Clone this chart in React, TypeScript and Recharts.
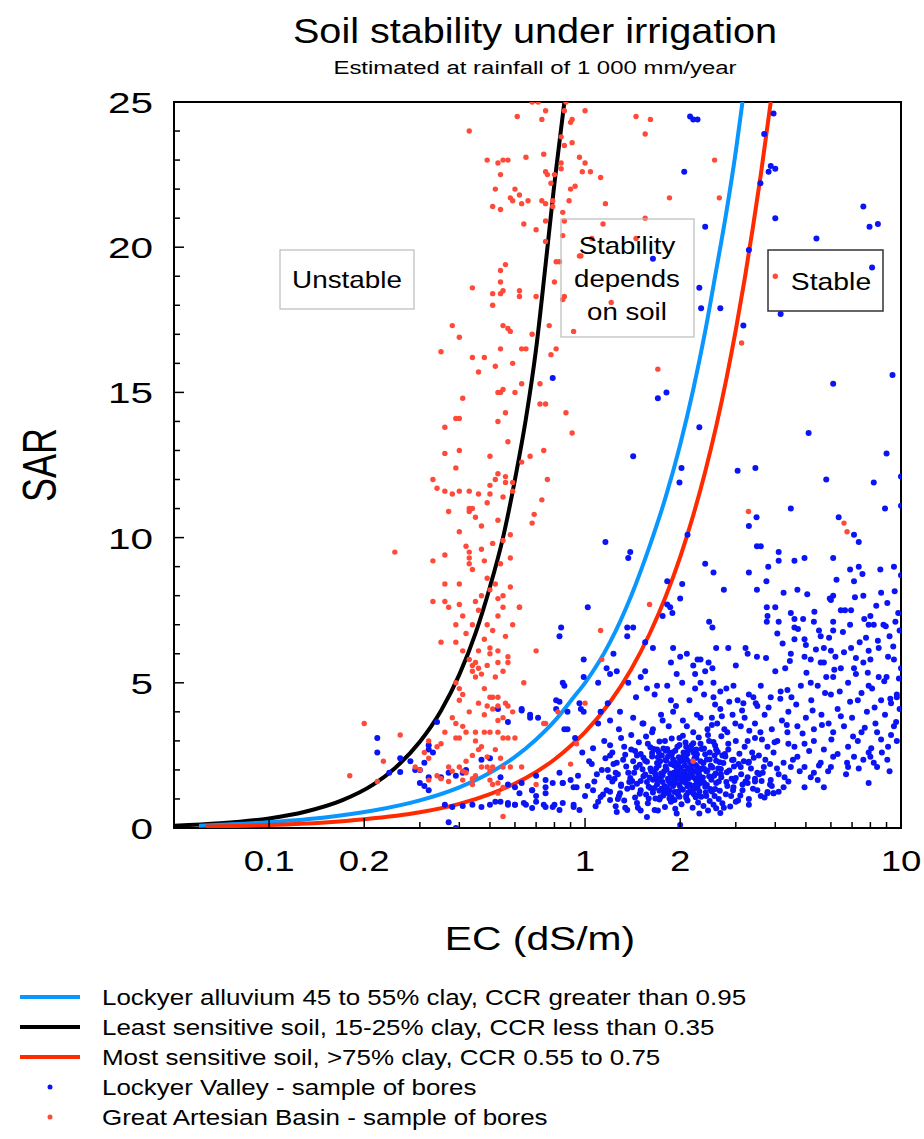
import React from 'react';
import { ComposedChart, Line, Scatter, XAxis, YAxis, ReferenceArea } from 'recharts';

type P = [number, number];

const xTicks = [0.1, 0.2, 0.3, 0.4, 0.5, 0.6, 0.7, 0.8, 0.9, 1, 2, 3, 4, 5, 6, 7, 8, 9, 10];
const xMajor = [0.1, 0.2, 1, 2, 10];
const xLabels = [0.1, 0.2, 1, 2, 10];
const yTicks = Array.from({ length: 26 }, (_, i) => i);
const yLabels = [0, 5, 10, 15, 20, 25];

const leastSensitive: P[] = [[0.05,0.08],[0.07,0.16],[0.1,0.33],[0.13,0.56],[0.17,0.95],[0.214,1.5],[0.25,2.06],[0.3,2.97],[0.35,4.04],[0.4,5.28],[0.45,6.7],[0.5,8.3],[0.55,10.0],[0.6,12.0],[0.65,14.1],[0.7,16.5],[0.75,19.4],[0.8,22.2],[0.86,25]];
const lockyerAlluvium: P[] = [[0.06,0.08],[0.1,0.2],[0.15,0.36],[0.214,0.6],[0.3,0.95],[0.4,1.4],[0.5,1.9],[0.6,2.45],[0.7,3.05],[0.8,3.68],[0.92,4.5],[1.0,5.0],[1.2,6.4],[1.4,8.0],[1.6,9.7],[1.8,11.4],[2.0,13.2],[2.2,15.1],[2.4,17.1],[2.6,19.2],[2.8,21.2],[3.0,23.3],[3.15,25]];
const mostSensitive: P[] = [[0.063,0.05],[0.1,0.1],[0.15,0.19],[0.2,0.3],[0.3,0.54],[0.4,0.83],[0.5,1.17],[0.6,1.53],[0.7,1.93],[0.8,2.36],[0.92,2.92],[1.0,3.3],[1.2,4.34],[1.4,5.47],[1.6,6.68],[1.8,7.97],[2.0,9.33],[2.2,10.77],[2.4,12.27],[2.6,13.83],[2.8,15.46],[3.0,17.15],[3.2,18.9],[3.4,20.7],[3.6,22.5],[3.87,25]];

const greatArtesianBasin: P[] = [
[0.68,25],[0.71,25],[0.87,25],[0.86,24.7],[0.75,24.7],[1.0,24.7],[0.61,24.5],[0.73,24.4],[0.91,24.4],[0.90,24.3],[0.43,24.0],[0.84,23.8],[0.91,23.6],[0.86,23.5],[0.74,23.2],[0.65,23.1],[0.96,23.1],[0.49,23.0],[0.55,23.0],[0.57,23.0],[0.53,22.9],[1.0,22.9],[0.84,22.9],[0.84,22.7],[0.54,22.5],[0.75,22.6],[0.76,22.5],[0.80,22.5],[0.98,22.6],[1.04,22.6],[0.78,22.2],[0.52,22.0],[0.60,22.0],[0.93,22.1],[0.90,22.0],[0.62,21.8],[0.58,21.7],[0.59,21.6],[0.66,21.6],[0.63,21.5],[0.73,21.6],[0.75,21.5],[0.79,21.6],[0.79,21.4],[0.89,21.6],[0.51,21.4],[0.54,21.3],[0.85,21.2],[0.64,20.8],[0.75,20.9],[0.86,20.9],[0.70,20.6],[0.85,20.4],[0.75,20.2],[0.81,19.5],[0.83,19.5],[0.56,19.4],[0.54,19.2],[0.96,19.7],[0.80,18.8],[0.44,18.6],[0.54,18.8],[0.55,18.5],[0.54,18.4],[0.51,18.4],[0.62,18.5],[0.62,18.3],[0.70,18.3],[0.86,18.3],[0.51,18.0],
[0.85,18.2],[0.38,17.3],[0.55,17.3],[0.57,17.2],[0.58,17.1],[0.77,17.3],[0.68,17.0],[0.92,17.1],[0.40,16.9],[0.35,16.4],[0.54,16.5],[0.63,16.5],[0.65,16.5],[0.81,16.5],[0.78,16.3],[0.44,16.2],[0.48,16.2],[0.52,15.9],[0.59,16.0],[0.46,15.7],[0.63,15.3],[0.72,15.3],[0.53,15.0],[0.54,15.0],[0.55,15.1],[0.60,15.0],[0.41,14.8],[0.72,14.6],[0.75,14.6],[0.56,14.3],[0.87,14.3],[0.39,14.1],[0.40,14.1],[0.53,14.0],[0.36,13.8],[0.91,13.6],[0.57,13.3],[0.36,12.9],[0.40,13.0],[0.50,12.8],[0.67,12.8],[0.74,13.0],[0.63,12.6],[0.39,12.4],[0.53,12.2],[0.56,12.1],[0.52,12.0],[0.56,11.9],[0.59,11.9],[0.76,12.0],[0.33,12.0],[0.34,11.7],[0.36,11.6],[0.38,11.5],[0.40,11.6],[0.43,11.6],[0.46,11.5],[0.50,11.8],[0.50,11.5],[0.55,11.4],[0.59,11.6],[0.73,11.3],[0.49,11.2],[0.37,10.9],[0.43,11.0],[0.44,11.0],[0.43,10.9],[0.45,10.7],[0.69,10.8],[0.68,10.5],
[0.25,9.5],[0.33,9.2],[0.36,9.4],[0.42,9.7],[0.43,9.5],[0.43,9.3],[0.43,9.1],[0.47,9.6],[0.51,9.8],[0.55,9.9],[0.54,9.1],[0.58,9.3],[0.36,8.4],[0.40,8.4],[0.49,8.6],[0.52,8.4],[0.33,7.8],[0.36,7.8],[0.37,7.6],[0.40,7.7],[0.45,7.8],[0.46,7.5],[0.55,8.0],[0.55,7.6],[0.58,8.3],[0.62,7.6],[0.39,7.0],[0.41,7.3],[0.44,7.0],[0.49,7.0],[0.53,7.3],[0.59,7.0],[0.35,6.4],[0.39,6.4],[0.50,6.2],[0.41,6.1],[0.46,6.1],[0.50,6.0],[0.53,6.1],[0.53,5.7],[0.57,5.9],[0.57,5.7],[0.70,6.1],[0.43,5.8],[0.45,5.7],[0.46,5.5],[0.44,5.6],[0.44,5.4],[0.45,5.2],[0.39,5.0],[0.64,5.0],[0.40,4.8],[0.41,4.6],[0.40,4.4],[0.48,4.8],[0.50,4.5],[0.51,4.5],[0.53,4.5],[0.49,4.2],[0.53,4.2],[0.56,4.3],[0.57,4.2],[0.59,4.0],[0.53,3.7],[0.39,3.6],[0.41,3.5],[0.42,3.3],[0.45,3.3],[0.40,3.1],[0.39,3.1],[0.48,3.3],[0.50,3.3],[0.53,3.3],[0.55,3.1],[0.57,3.1],[0.60,3.1],[0.75,3.6],[0.45,3.0],[0.46,2.7],[0.20,3.6],[0.26,3.2],[0.32,3.0],[0.34,2.8],[0.35,2.9],[0.31,2.6],[0.32,2.4],[0.23,2.3],[0.29,2.1],[0.30,2.0],[0.34,1.8],[0.35,1.7],[0.32,1.65],[0.37,2.1],[0.38,1.96],[0.40,2.1],[0.41,1.96],[0.42,1.9],[0.44,1.7],[0.45,1.8],[0.47,2.1],[0.49,2.1],[0.50,1.96],[0.51,2.1],[0.55,2.1],[0.58,2.1],[0.63,2.1],[0.18,1.8],[0.22,1.6],[0.37,1.6],[0.41,1.65],[0.44,1.5],[0.50,1.65],[0.51,1.5],[0.53,1.55],[0.55,1.4],[0.53,1.2],[0.55,0.4],
[1.45,24.5],[1.61,24.4],[1.55,23.9],[1.12,22.4],[1.16,21.5],[1.85,21.7],[2.57,23.0],[2.66,21.7],[1.05,20.3],[1.14,20.8],[1.55,21.0],[1.45,20.3],[0.97,19.7],[1.21,18.1],[4.0,19.0],[3.13,16.7],[1.70,15.8],[3.29,10.9],[6.6,10.5],[6.75,10.2],[1.60,7.7],[1.12,6.8],[0.62,7.6],[1.13,5.8],[1.0,4.3],[0.82,4.0],[0.74,3.6],[0.94,2.9],[0.90,2.2],[0.70,1.5],[2.2,2.3],
[0.42,2.3],[0.44,2.5],[0.47,2.8],[0.49,2.45],[0.52,2.7],[0.54,2.4],[0.43,4.0],[0.46,4.3],[0.48,3.9],[0.51,4.1],[0.55,3.8],[0.47,5.3],[0.49,5.6],[0.52,5.2],[0.55,5.4],[0.42,6.7],[0.48,6.5],[0.51,6.8],[0.56,6.6],[0.47,8.0],[0.5,8.2],[0.53,7.9],[0.44,8.9],[0.48,9.2],[0.4,10.2],[0.47,10.4],[0.53,10.6],[0.58,10.1],[0.38,3.8],[0.36,3.3]
];

const lockyerValley: P[] = [
[2.15,24.5],[2.2,24.4],[2.27,24.4],[3.95,24.6],[3.69,23.9],[3.87,22.8],[4.0,22.7],[3.81,22.6],[2.06,22.6],[3.59,22.2],[7.6,21.4],[8.45,20.8],[7.95,20.7],[4.0,21.0],[2.4,20.7],[5.4,20.3],[3.3,19.9],[8.1,19.3],[1.64,19.6],[2.3,18.6],[2.33,17.9],[2.68,17.9],[4.16,17.7],[3.17,17.3],[9.4,15.6],[6.1,15.3],[1.7,14.8],[1.81,15.0],[2.3,13.8],[5.1,13.6],[1.42,12.8],[9.0,12.9],[2.02,12.4],[1.99,11.9],[3.04,12.3],[3.46,12.4],[5.8,12.0],[8.2,11.9],[10,12.1],[8.9,11.0],[10,11.1],[4.48,11.0],[3.49,10.7],[3.3,10.4],[6.35,10.7],[7.1,10.1],[7.35,9.85],[1.16,9.85],[2.11,10.1],[3.5,9.7],[3.6,9.7],[0.79,15.5],
[1.39,9.5],[1.37,9.3],[4.1,9.5],[4.1,9.2],[4.6,9.2],[4.95,9.3],[6.1,9.3],[2.4,9.1],[2.55,8.8],[2.75,8.2],[3.3,8.8],[3.8,9.0],[3.75,8.5],[3.5,8.2],[4.25,8.1],[4.7,8.2],[6.9,8.9],[7.35,9.0],[7.1,8.5],[8.6,8.9],[9.5,9.0],[7.6,8.0],[8.65,8.1],[6.0,7.85],[6.1,8.0],[5.95,7.9],[10,8.7],[1.02,7.6],[1.82,8.5],[2.03,8.4],[2.0,7.9],[1.86,7.6],[1.89,7.4],[1.76,7.3],[1.82,7.7],[2.47,7.1],[2.53,6.9],
[3.76,7.6],[4.0,7.6],[3.78,7.3],[3.76,7.1],[4.06,6.7],[4.1,7.1],[4.48,7.4],[4.9,7.2],[5.3,7.1],[4.6,6.9],[5.57,6.6],[6.1,7.1],[6.1,6.8],[6.45,7.5],[6.65,7.5],[6.95,7.5],[7.65,7.2],[7.9,7.0],[8.2,7.0],[8.8,7.0],[9.6,7.1],[9.8,7.4],
[0.84,6.9],[0.83,6.6],[1.23,6.0],[1.36,6.9],[1.36,6.6],[1.42,6.9],[1.17,5.5],[1.1,5.0],[0.99,5.8],[0.99,5.2],[0.99,4.0],[0.97,4.1],
[1.55,6.4],[1.64,6.2],[1.87,5.7],[1.9,6.2],[2.1,6.0],[2.27,5.8],[2.32,5.8],[2.2,5.6],[2.46,5.7],[2.53,5.5],[2.6,6.2],[2.84,6.2],[3.22,6.2],[3.27,6.0],
[3.74,5.85],[4.48,6.0],[4.6,6.5],[4.95,6.5],[4.95,5.9],[5.18,5.8],[5.57,5.7],[5.7,5.7],[5.7,6.2],[6.0,6.1],[6.45,5.5],[6.95,6.2],[7.1,5.5],[7.6,5.7],[7.9,6.1],[8.0,5.8],[8.5,5.2],[9.1,5.9],[9.5,5.8],[9.7,4.5],[10,5.5],
[0.85,5.0],[0.81,4.4],[0.96,4.3],[0.88,4.0],[0.86,3.4],[0.93,3.1],[0.81,4.1],[0.71,3.8],[0.63,4.1],[0.67,3.9],
[1.2,5.3],[1.26,5.4],[1.37,5.0],[1.5,5.2],[1.57,4.8],[1.69,4.9],[1.82,4.9],[2.03,5.0],[2.23,5.3],[2.32,5.0],[2.55,5.0],[2.68,4.7],[2.95,4.9],[3.04,4.4],[3.17,4.3],[3.41,4.5],[3.51,4.2],[3.87,4.5],[4.16,4.7],[4.37,4.75],[4.82,4.9],[5.18,5.0],[5.45,4.9],[6.0,4.6],[6.1,5.2],[6.8,5.0],[7.3,4.4],[7.9,4.9],[8.65,4.4],[9.3,4.3],
[1.12,4.0],[1.2,3.7],[1.29,4.0],[1.42,3.8],[1.53,3.6],[1.64,3.4],[1.76,3.7],[1.9,4.0],[2.1,3.5],[2.32,3.8],[2.44,3.4],[2.62,3.6],[2.82,3.3],[3.11,3.5],[3.27,3.0],[3.59,3.3],[3.78,2.8],[4.06,3.0],[4.37,3.3],[4.6,2.8],[4.95,2.9],[5.3,3.0],[5.7,2.7],[6.1,3.3],[6.8,2.8],[7.3,3.0],[7.9,2.6],[8.4,3.3],[9.1,2.8],[9.7,3.0],
[2.95,2.35],[3.11,2.1],[3.29,2.25],[3.51,1.9],[3.68,2.1],[3.87,1.65],[3.95,2.6],[4.25,2.25],[4.48,2.1],[4.7,2.45],[4.95,2.1],[5.18,1.75],[5.57,2.25],[6.0,2.1],[6.1,2.45],[6.8,2.1],[7.1,2.45],[7.6,2.35],[8.2,2.25],[8.4,2.1],[9.3,3.2],[8.0,2.45],[2.95,1.4],[3.27,1.55],[3.51,1.3],[3.78,1.2],[3.95,1.2],[4.25,1.4],[4.95,1.4],[5.3,1.9],[5.7,1.4],[3.27,1.75],
[0.54,0.9],[0.57,0.86],[0.6,0.8],[0.64,0.86],[0.68,0.69],[0.74,0.8],[0.79,0.72],[0.83,0.62],[0.92,0.8],[0.96,0.62],[0.62,1.2],[0.68,1.3],[0.75,1.4],[0.85,1.55],[0.94,1.4],[1.06,1.3],[1.12,1.07],[1.2,0.96],[1.29,1.2],[1.36,0.62],[1.46,0.86],[1.57,0.38],[2.68,0.52],[2.0,0.1],[3.78,1.24],[3.95,1.2],
[0.22,3.1],[0.22,2.6],[0.26,2.4],[0.28,2.3],[0.34,3.65],[0.32,2.85],[0.32,2.7],[0.33,2.6],[0.31,2.25],[0.30,2.0],[0.32,1.75],[0.35,1.75],[0.37,1.9],[0.39,1.8],[0.41,1.9],[0.42,2.0],[0.47,2.35],[0.50,2.4],[0.53,4.1],[0.57,3.65],[0.63,4.05],[0.67,3.8],[0.88,3.4],[0.83,4.35],[0.86,4.9],[0.54,1.75],[0.57,1.5],[0.6,1.4],[0.63,1.55],[0.68,1.3],[0.7,1.1],[0.75,1.2],[0.79,1.55],[0.83,1.9],[0.9,1.65],[0.37,0.2],[0.39,0.0],[0.36,0.8],[0.38,0.72],[0.41,0.76],[0.44,0.8],[0.47,0.72],[0.5,0.8],[0.52,0.9],[0.57,0.8],[0.6,0.8],[0.65,0.8],[0.7,0.9],[0.75,0.72],[0.8,0.8],[0.85,0.86],[0.92,0.72],[0.24,1.9],[0.26,1.93],[0.29,2.0],[0.3,1.55],[0.31,1.45],[0.32,1.3],[0.7,1.8],[0.75,1.65],[0.85,1.55],[0.92,1.4],
[3.2,3.8],[3.45,3.6],[3.7,3.9],[3.9,3.4],[4.2,3.7],[4.4,4.0],[4.7,3.5],[5.0,3.8],[5.3,3.4],[5.6,3.9],[5.9,3.6],[6.3,4.1],[6.6,3.5],[7.0,3.8],[7.5,3.3],[7.8,4.0],[8.3,3.6],[8.9,3.9],[9.5,3.5],[9.9,4.1],[3.3,4.6],[3.6,4.9],[4.0,5.4],[4.5,4.5],[5.2,4.4],[5.8,5.2],[6.4,4.7],[7.2,5.3],[8.1,4.8],[9.0,5.2],[9.7,4.6],[3.0,5.6],[3.5,5.9],[4.3,5.5],[5.0,6.3],[6.2,5.9],[7.4,6.4],[8.5,6.2],[9.2,6.6],[5.5,6.8],[6.9,7.0],[4.6,7.2],[8.0,7.3],[9.9,6.8],
[1.15,3.0],[1.22,2.6],[1.28,3.4],[1.33,2.8],[1.4,3.2],[1.46,2.5],[1.52,3.6],[1.58,2.9],[1.63,3.3],[1.69,2.7],[1.74,3.9],[1.79,3.0],[1.84,3.5],[1.89,2.6],[1.94,4.2],[1.99,3.1],[2.04,3.7],[2.09,2.8],[2.14,4.4],[2.2,3.3],[2.26,3.9],[2.32,2.9],[2.38,4.6],[2.45,3.2],[2.52,3.8],[2.6,2.7],[2.68,4.1],[2.76,3.4],[2.84,2.9],[2.93,3.9],[1.05,2.2],[1.1,3.6],[1.18,4.3],[1.25,1.9],[1.45,4.5],[1.66,4.6],[1.87,4.4],[2.23,4.8],[2.55,4.5],[2.8,4.8],[1.55,5.4],[1.95,5.3],[2.4,5.4],[2.0,5.9],
[0.95,1.8],[1.0,1.1],[1.03,2.3],[1.07,1.6],[1.1,0.9],[1.13,2.0],[1.17,1.3],[1.2,2.5],[1.24,1.7],[1.27,1.0],[1.3,1.5],[1.34,0.7],[1.37,1.9],[1.41,1.4],[2.55,0.8],[2.65,1.0],[2.75,0.7],[2.9,1.1],[3.0,0.9],[3.15,1.3],[3.3,1.0],[3.45,1.6],[3.6,1.1],[2.45,0.6],[2.3,0.5],[1.95,0.5],[1.7,0.6],[1.5,0.6],
[1.25,0.75],[1.33,0.95],[1.47,0.7],[1.58,0.85],[1.66,0.62],[1.72,0.98],[1.79,0.72],[1.87,0.9],[1.93,0.66],[2.02,0.82],[2.11,0.95],[2.19,0.7],[2.28,0.88],[2.37,0.76],[2.48,0.93],[2.6,0.68],[2.72,0.85],[2.88,0.74],[3.05,0.95],[3.3,0.8],
[1.2,1.25],[1.28,1.1],[1.36,1.35],[1.44,1.05],[1.5,1.3],[1.56,1.15],[1.61,1.38],[1.67,1.02],[1.72,1.28],[1.77,1.12],[1.82,1.36],[1.88,1.06],[1.92,1.24],[1.97,1.14],[2.04,1.32],[2.09,1.04],[2.15,1.26],[2.21,1.16],[2.27,1.38],[2.33,1.08],[2.41,1.22],[2.49,1.34],[2.57,1.1],[2.67,1.28],[2.79,1.16],[2.94,1.3],[3.1,1.12],[3.4,1.35],[3.7,1.05],[4.1,1.25],
[1.22,1.6],[1.3,1.45],[1.39,1.72],[1.46,1.52],[1.53,1.78],[1.59,1.42],[1.64,1.66],[1.69,1.5],[1.74,1.76],[1.79,1.44],[1.84,1.62],[1.89,1.54],[1.94,1.74],[1.99,1.46],[2.03,1.64],[2.08,1.56],[2.13,1.78],[2.18,1.43],[2.24,1.68],[2.3,1.52],[2.36,1.74],[2.43,1.48],[2.51,1.66],[2.6,1.55],[2.7,1.75],[2.82,1.45],[2.97,1.62],[3.15,1.5],[3.45,1.7],[3.85,1.5],
[1.18,2.0],[1.27,1.85],[1.35,2.12],[1.43,1.9],[1.49,2.18],[1.55,1.84],[1.61,2.05],[1.66,1.92],[1.71,2.15],[1.76,1.82],[1.81,2.02],[1.86,1.88],[1.91,2.16],[1.96,1.94],[2.01,2.08],[2.06,1.83],[2.12,2.04],[2.17,1.9],[2.23,2.18],[2.29,1.86],[2.35,2.06],[2.42,1.95],[2.5,2.14],[2.59,1.88],[2.69,2.03],[2.81,1.92],[2.96,2.12],[3.12,1.85],[3.35,2.05],[3.65,1.9],
[1.16,2.4],[1.26,2.25],[1.34,2.52],[1.42,2.3],[1.5,2.55],[1.57,2.28],[1.63,2.46],[1.69,2.24],[1.75,2.5],[1.8,2.34],[1.86,2.58],[1.92,2.26],[1.98,2.44],[2.05,2.32],[2.11,2.56],[2.18,2.22],[2.25,2.42],[2.32,2.3],[2.4,2.54],[2.48,2.36],[2.57,2.5],[2.67,2.26],[2.78,2.46],[2.92,2.34],[3.08,2.56],[3.3,2.28],[3.55,2.5],
[1.2,2.85],[1.3,3.1],[1.4,2.7],[1.48,2.95],[1.56,3.15],[1.65,2.72],[1.72,2.98],[1.8,2.66],[1.88,3.08],[1.96,2.8],[2.04,3.18],[2.12,2.68],[2.2,2.92],[2.29,3.12],[2.38,2.74],[2.47,3.0],[2.58,2.84],[2.7,3.16],[2.84,2.7],[3.0,3.0],[3.2,2.8],[3.45,3.1],
[1.83,1.7],[1.87,2.2],[1.9,1.45],[1.95,1.85],[2.0,2.3],[2.02,1.6],[2.07,1.95],[2.1,2.35],[2.14,1.5],[2.16,2.1],[2.2,1.75],[2.22,2.4],[2.26,1.55],[2.31,2.0],[1.78,1.95],[1.73,2.3],[1.85,1.3],[1.97,1.25],[2.05,2.6],[2.25,2.7],
[2.52,3.55],[2.58,4.25],[2.64,2.05],[2.71,3.85],[2.77,2.55],[2.86,4.35],[2.91,1.7],[2.99,3.6],[3.06,2.2],[3.14,4.05],[3.22,1.6],[3.31,3.35],[3.38,2.6],[3.47,4.3],[3.56,1.85],[3.63,3.05],[3.72,2.35],[3.81,4.15],[3.9,1.45],[3.98,2.95],
[4.05,2.05],[4.15,4.45],[4.28,1.75],[4.35,3.55],[4.45,5.75],[4.55,2.35],[4.66,4.25],[4.78,1.95],[4.88,3.25],[5.02,5.35],[5.12,2.65],[5.25,4.05],[5.38,6.15],[5.5,2.15],[5.62,3.55],[5.75,4.65],[5.88,1.95],[6.02,3.05],[6.15,5.45],[6.3,2.55],[6.45,3.85],[6.6,6.05],[6.75,2.25],[6.9,4.35],[7.05,3.15],[7.2,5.85],[7.35,2.05],[7.5,4.65],[7.68,3.45],[7.85,5.35],[8.05,2.75],[8.25,4.15],[8.45,6.45],[8.65,3.05],[8.85,5.05],[9.05,2.35],[9.25,4.45],[9.45,6.25],[9.65,3.65],[9.85,5.15],
[4.22,6.35],[4.72,6.85],[5.32,7.45],[5.92,6.55],[6.55,6.75],[7.15,7.95],[7.75,6.55],[8.35,7.65],[8.95,6.95],[9.55,8.15],[5.05,8.05],[6.25,8.55],[7.55,8.75],[9.05,7.75],[4.4,2.9],[5.45,1.65],[6.7,1.85],[7.9,1.55],[9.2,1.95],[8.7,2.6],
[1.41,1.62],[1.45,2.08],[1.49,1.18],[1.53,2.42],[1.57,1.58],[1.61,2.78],[1.64,1.22],[1.67,1.84],[1.7,2.44],[1.73,1.06],[1.76,1.58],[1.8,2.12],[1.82,2.72],[1.84,1.18],[1.88,1.76],[1.9,2.36],[1.92,0.96],[1.94,1.56],[1.97,2.22],[1.99,2.86],[2.01,1.36],[2.04,1.92],[2.06,2.48],[2.09,1.12],[2.12,1.7],[2.15,2.26],[2.17,2.84],[2.2,1.32],[2.23,1.94],[2.26,2.54],[2.29,1.14],[2.33,1.66],[2.37,2.24],[2.4,1.42],[2.44,1.98],[2.48,2.6],[2.52,1.26],[2.56,1.8],[2.6,2.32],[2.65,1.6],
[1.52,2.02],[1.6,1.74],[1.68,2.06],[1.75,1.36],[1.83,2.46],[1.91,1.9],[1.98,1.72],[2.07,2.16],[2.14,1.82],[2.21,2.58],[2.3,1.8],[2.38,2.04],[1.7,1.64],[1.86,1.52],[2.0,1.88],[2.11,1.44],[2.18,2.0],[2.27,1.7],
[0.98,2.6],[1.02,1.45],[1.06,2.75],[1.09,1.85],[1.14,1.15],[1.19,1.75],[1.23,2.2],[1.32,2.35],[1.38,1.58],[1.44,2.65],[1.08,0.75],[1.26,0.55],
[1.62,1.95],[1.66,1.38],[1.71,2.62],[1.74,1.88],[1.78,1.24],[1.81,2.32],[1.85,1.02],[1.88,2.52],[1.92,1.62],[1.95,2.06],[1.99,1.08],[2.02,2.42],[2.05,1.74],[2.08,2.94],[2.12,1.22],[2.15,1.96],[2.19,2.68],[2.22,1.46],[2.26,2.12],[2.3,1.26],[2.34,2.72],[2.38,1.56],[2.43,2.36],[2.47,1.78],[2.53,2.08],[2.58,1.34],[2.63,2.62],[2.69,1.86],[2.74,2.24],[2.8,1.58],
[1.5,1.62],[1.55,2.32],[1.59,1.02],[1.63,2.58],[1.68,1.74],[1.77,2.74],[1.93,2.66],[2.09,2.52],[2.24,1.06],[2.42,1.1],[2.55,2.96],[2.72,2.5],[2.86,1.98],[3.0,1.72],[3.18,2.3],[3.42,2.42],[3.62,1.62],[3.85,2.2],[4.1,1.85],[4.4,1.6]
];

const toPts = (a: P[]) => a.map(([ec, sar]) => ({ ec, sar }));

const FONT = '"Liberation Sans", Arial, Helvetica, sans-serif';
const BLUE_DOT = '#0a14f5';
const RED_DOT = '#ff4a3a';
const BLUE_LINE = '#0a96ff';
const RED_LINE = '#ff2a00';

const legendItems = [
  { label: 'Lockyer alluvium 45 to 55% clay, CCR greater than 0.95', color: BLUE_LINE, kind: 'line' },
  { label: 'Least sensitive soil, 15-25% clay, CCR less than 0.35', color: '#000000', kind: 'line' },
  { label: 'Most sensitive soil, >75% clay, CCR 0.55 to 0.75', color: RED_LINE, kind: 'line' },
  { label: 'Lockyer Valley - sample of bores', color: BLUE_DOT, kind: 'dot' },
  { label: 'Great Artesian Basin - sample of bores', color: RED_DOT, kind: 'dot' },
];

const sx = (cx: number, k: number) => `translate(${cx},0) scale(${k},1) translate(${-cx},0)`;

const XTick = (props: any) => {
  const { x, y, payload } = props;
  const v = payload.value;
  const major = xMajor.includes(v);
  return (
    <g>
      <line x1={x} x2={x} y1={y} y2={y - (major ? 10 : 6)} stroke="#000" strokeWidth={1.5} />
      {xLabels.includes(v) && (
        <text x={x} y={y + 43} textAnchor="middle" fill="#000"
          style={{ fontSize: 30, fontFamily: FONT }} transform={sx(x, 1.22)}>{String(v)}</text>
      )}
    </g>
  );
};

const YTick = (props: any) => {
  const { x, y, payload } = props;
  const v = payload.value;
  const major = v % 5 === 0;
  return (
    <g>
      <line x1={x} x2={x + (major ? 10 : 6)} y1={y} y2={y} stroke="#000" strokeWidth={1.5} />
      {yLabels.includes(v) && (
        <text x={x - 21} y={y + 11} textAnchor="end" fill="#000"
          style={{ fontSize: 30, fontFamily: FONT }} transform={sx(x - 21, 1.35)}>{String(v)}</text>
      )}
    </g>
  );
};

const dot = (color: string, r: number) => (p: any) => <circle cx={p.cx} cy={p.cy} r={r} fill={color} />;

export default function App() {
  const boxText = { fontSize: 24, fontFamily: FONT, fill: '#000', textAnchor: 'middle' as const };
  return (
    <div style={{ position: 'absolute', left: 0, top: 0, width: 924, height: 1139, background: '#fff' }}>
      <ComposedChart width={924} height={1139} margin={{ top: 102, right: 23, bottom: 251, left: 0 }}>
        <XAxis type="number" dataKey="ec" scale="log" domain={[0.05, 10]} allowDataOverflow ticks={xTicks}
          interval={0} tick={<XTick />} tickLine={false} axisLine={false} tickSize={0} tickMargin={0} height={60} />
        <YAxis type="number" dataKey="sar" domain={[0, 25]} allowDataOverflow ticks={yTicks}
          interval={0} tick={<YTick />} tickLine={false} axisLine={false} tickSize={0} tickMargin={0} width={174} />
        <Line data={toPts(leastSensitive)} dataKey="sar" type="monotone" stroke="#000" strokeWidth={4} dot={false} isAnimationActive={false} />
        <Line data={toPts(lockyerAlluvium)} dataKey="sar" type="monotone" stroke={BLUE_LINE} strokeWidth={4} dot={false} isAnimationActive={false} />
        <Line data={toPts(mostSensitive)} dataKey="sar" type="monotone" stroke={RED_LINE} strokeWidth={4} dot={false} isAnimationActive={false} />
        <Scatter data={toPts(lockyerValley)} fill={BLUE_DOT} shape={dot(BLUE_DOT, 3)} isAnimationActive={false} />
        <Scatter data={toPts(greatArtesianBasin)} fill={RED_DOT} shape={dot(RED_DOT, 2.7)} isAnimationActive={false} />
        <ReferenceArea x1={0.05} x2={10} y1={0} y2={25} fill="none" fillOpacity={0} stroke="#000" strokeWidth={2} ifOverflow="visible" />
      </ComposedChart>
      <svg width={924} height={1139} style={{ position: 'absolute', left: 0, top: 0, pointerEvents: 'none' }}>
        <text x={535} y={43} textAnchor="middle" fontSize={36} fontFamily={FONT} fill="#000"
          transform={sx(535, 1.1)}>Soil stability under irrigation</text>
        <text x={535} y={74} textAnchor="middle" fontSize={19} fontFamily={FONT} fill="#000"
          transform={sx(535, 1.26)}>Estimated at rainfall of 1 000 mm/year</text>
        <text x={0} y={12.5} textAnchor="middle" fontSize={36} fontFamily={FONT} fill="#000"
          transform="translate(39,465) scale(1.35,1) rotate(-90)">SAR</text>
        <text x={540} y={950} textAnchor="middle" fontSize={34} fontFamily={FONT} fill="#000"
          transform={sx(540, 1.2)}>EC (dS/m)</text>

        <rect x={280} y={250} width={134} height={59} fill="none" stroke="#bbb" strokeWidth={1.2} />
        <text x={347} y={288} {...boxText} transform={sx(347, 1.16)}>Unstable</text>
        <rect x={561} y={219} width={133} height={118} fill="none" stroke="#bbb" strokeWidth={1.2} />
        <text x={627} y={254} {...boxText} transform={sx(627, 1.15)}>Stability</text>
        <text x={627} y={287} {...boxText} transform={sx(627, 1.15)}>depends</text>
        <text x={627} y={320} {...boxText} transform={sx(627, 1.15)}>on soil</text>
        <rect x={768} y={250} width={115} height={61} fill="none" stroke="#333" strokeWidth={1.5} />
        <text x={831} y={290} {...boxText} transform={sx(831, 1.18)}>Stable</text>

        {legendItems.map((it, i) => {
          const cy = 997 + i * 30;
          return (
            <g key={i}>
              {it.kind === 'line'
                ? <line x1={20} x2={80} y1={cy} y2={cy} stroke={it.color} strokeWidth={4} />
                : <circle cx={50} cy={cy} r={2.5} fill={it.color} />}
              <text x={102} y={cy + 8} fontSize={22} fontFamily={FONT} fill="#000"
                transform={sx(102, 1.18)}>{it.label}</text>
            </g>
          );
        })}
      </svg>
    </div>
  );
}
